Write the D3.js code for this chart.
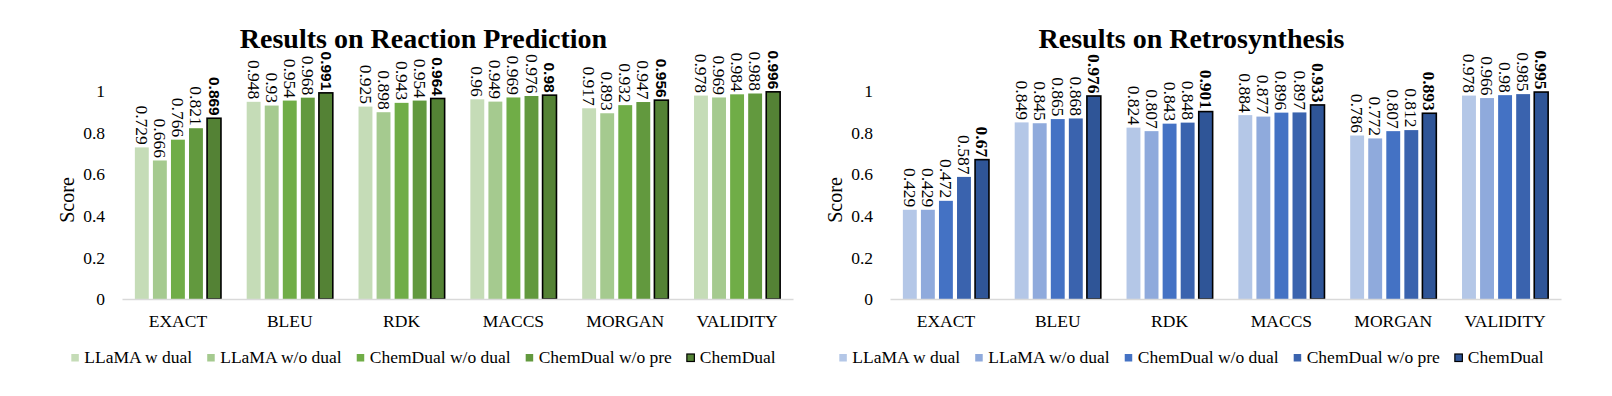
<!DOCTYPE html>
<html lang="en">
  <head>
    <meta charset="utf-8">
    <style>
      body { margin: 0; background: #fff; }
      text { font-family: "Liberation Serif", "Times New Roman", serif; fill: #000; }
    </style>
  </head>
  <body>
    <script type="text/javascript" src="https://cdn.jsdelivr.net/npm/d3@7"></script>
    <script type="text/javascript">
      // data
      var categories = ["EXACT", "BLEU", "RDK", "MACCS", "MORGAN", "VALIDITY"];
      var seriesNames = ["LLaMA w dual", "LLaMA w/o dual", "ChemDual w/o dual", "ChemDual w/o pre", "ChemDual"];
      var yTicks = [0, 0.2, 0.4, 0.6, 0.8, 1];

      // Results on Reaction Prediction, one array per series
      var reactLlamaDual   = [0.729, 0.948, 0.925, 0.96, 0.917, 0.978];
      var reactLlamaNoDual = [0.666, 0.93, 0.898, 0.949, 0.893, 0.969];
      var reactChemNoDual  = [0.766, 0.954, 0.943, 0.969, 0.932, 0.984];
      var reactChemNoPre   = [0.821, 0.968, 0.954, 0.976, 0.947, 0.988];
      var reactChemDual    = [0.869, 0.991, 0.964, 0.98, 0.956, 0.996];

      // Results on Retrosynthesis
      var retroLlamaDual   = [0.429, 0.849, 0.824, 0.884, 0.786, 0.978];
      var retroLlamaNoDual = [0.429, 0.845, 0.807, 0.877, 0.772, 0.966];
      var retroChemNoDual  = [0.472, 0.865, 0.843, 0.896, 0.807, 0.98];
      var retroChemNoPre   = [0.587, 0.868, 0.848, 0.897, 0.812, 0.985];
      var retroChemDual    = [0.67, 0.976, 0.901, 0.933, 0.893, 0.995];

      var greens = ["#c5dcb7", "#a5ca8f", "#70ad47", "#62993e", "#548235"];
      var blues = ["#b4c7e7", "#8faadc", "#4472c4", "#3a63ae", "#2f5597"];

      var svg = d3.select("body")
        .append("svg")
        .attr("width", 1612)
        .attr("height", 396);

      function drawChart(left, title, series, colors, boldFont, boldSize) {
        var width = 671;
        var top = 91, bottom = 299;
        var last = series.length - 1;
        var g = svg.append("g").attr("transform", "translate(" + left + ",0)");

        var x = d3.scaleBand().domain(categories).range([0, width])
          .paddingInner(0.23).paddingOuter(0.115);
        var xs = d3.scaleBand().domain(d3.range(series.length)).range([0, x.bandwidth()])
          .paddingInner(0.23);
        var y = d3.scaleLinear().domain([0, 1]).range([bottom, top]);

        // y tick labels (no axis line)
        var yAxis = g.append("g")
          .attr("transform", "translate(-10,0)")
          .call(d3.axisLeft(y).tickValues(yTicks).tickSize(0).tickPadding(7)
            .tickFormat(function(d) { return d3.format("")(d); }));
        yAxis.select(".domain").remove();
        yAxis.selectAll("text")
          .style("font-family", "Liberation Serif")
          .style("font-size", "17.5px");

        // bars
        var groups = g.selectAll(".grp")
          .data(categories)
          .enter()
          .append("g")
          .attr("transform", function(d) { return "translate(" + x(d) + ",0)"; });

        groups.selectAll("rect")
          .data(function(c, ci) { return series.map(function(s, si) { return {si: si, v: s[ci]}; }); })
          .enter()
          .append("rect")
          .attr("x", function(d) { return xs(d.si); })
          .attr("width", xs.bandwidth())
          .attr("y", function(d) { return y(d.v); })
          .attr("height", function(d) { return y(0) - y(d.v); })
          .attr("fill", function(d) { return colors[d.si]; })
          .attr("stroke", function(d) { return d.si === last ? "#000" : "none"; })
          .attr("stroke-width", 1.6);

        // value labels, rotated
        groups.selectAll(".lbl")
          .data(function(c, ci) { return series.map(function(s, si) { return {si: si, v: s[ci]}; }); })
          .enter()
          .append("text")
          .attr("class", "lbl")
          .attr("transform", function(d) {
            return "translate(" + (xs(d.si) + xs.bandwidth() / 2) + "," + (y(d.v) - 2.5) + ") rotate(90)";
          })
          .attr("text-anchor", "end")
          .attr("dy", "0.34em")
          .style("font-size", function(d) { return d.si === last ? boldSize : "17.5px"; })
          .style("font-family", function(d) { return d.si === last ? boldFont : "Liberation Serif"; })
          .style("font-weight", function(d) { return d.si === last ? "bold" : "normal"; })
          .text(function(d) { return d3.format("")(d.v); });

        // x axis
        var xAxis = g.append("g")
          .attr("transform", "translate(0," + bottom + ")")
          .call(d3.axisBottom(x).tickSize(0).tickPadding(15.5));
        xAxis.select(".domain").attr("stroke", "#d9d9d9").attr("stroke-width", 1.5);
        xAxis.selectAll("text")
          .style("font-family", "Liberation Serif")
          .style("font-size", "17.5px");

        var cx = width / 2 - 34;

        // title
        g.append("text")
          .attr("x", cx)
          .attr("y", 48)
          .attr("text-anchor", "middle")
          .style("font-size", "28px")
          .style("font-weight", "bold")
          .text(title);

        // y label
        g.append("text")
          .attr("transform", "translate(-48,200) rotate(-90)")
          .attr("text-anchor", "middle")
          .style("font-size", "20px")
          .text("Score");

        // legend
        var legend = g.append("g");
        var pos = 0;
        seriesNames.forEach(function(name, i) {
          var item = legend.append("g").attr("transform", "translate(" + pos + ",0)");
          item.append("rect")
            .attr("x", 0).attr("y", 354)
            .attr("width", 7.5).attr("height", 7.5)
            .attr("fill", colors[i])
            .attr("stroke", i === last ? "#000" : "none")
            .attr("stroke-width", 1.2);
          var t = item.append("text")
            .attr("x", 13).attr("y", 363)
            .style("font-size", "17.5px")
            .text(name);
          pos += 13 + t.node().getComputedTextLength() + 15;
        });
        pos -= 15;
        legend.attr("transform", "translate(" + (cx - pos / 2) + ",0)");
      }

      drawChart(122, "Results on Reaction Prediction",
        [reactLlamaDual, reactLlamaNoDual, reactChemNoDual, reactChemNoPre, reactChemDual],
        greens, "Liberation Sans", "15.5px");
      drawChart(890, "Results on Retrosynthesis",
        [retroLlamaDual, retroLlamaNoDual, retroChemNoDual, retroChemNoPre, retroChemDual],
        blues, "Liberation Serif", "17.5px");
    </script>
  </body>
</html>
